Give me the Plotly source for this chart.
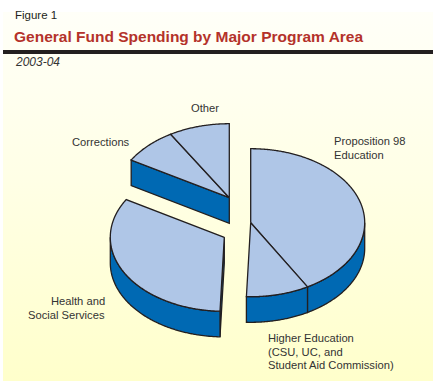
import numpy as np
import plotly.graph_objects as go

categories = ["Proposition 98 Education", "Higher Education", "Health and Social Services", "Corrections", "Other"]
values = [41.7, 8.9, 32.9, 7.9, 8.6]
groups = [0, 0, 1, 2, 2]
# apex position of each exploded group (page pixels)
group_centers = {0: (250.7, 222.7), 1: (224.3, 237.3), 2: (229.3, 197.7)}
RX, RY, DEPTH = 114.0, 74.0, 25.6

LIGHT = "#AFC6E7"
DARK = "#0069B3"
INK = "#231F20"
TEXT = "#333333"
FONT = "Liberation Sans"

fig = go.Figure()

# panel with soft vertical gradient (colour stops listed bottom-to-top because the y axis is reversed)
fig.add_trace(go.Scatter(
    x=[3, 433, 433, 3, 3], y=[12, 12, 381, 381, 12], mode="lines", fill="toself",
    line=dict(width=0), hoverinfo="skip", showlegend=False,
    fillgradient=dict(type="vertical",
                      colorscale=[[0, "#FFFFCB"], [0.55, "#FFFFE6"], [1, "#FFFFF8"]]),
))
fig.add_trace(go.Scatter(
    x=[3, 433, 433, 3, 3], y=[50, 50, 54, 54, 50], mode="lines", fill="toself",
    line=dict(width=0), fillcolor=INK, hoverinfo="skip", showlegend=False))


def poly(xs, ys, color):
    fig.add_trace(go.Scatter(
        x=list(xs), y=list(ys), mode="lines", fill="toself", fillcolor=color,
        line=dict(color=INK, width=1.3, simplify=False), hoverinfo="skip", showlegend=False))


def rim(c, a, b):
    t = np.radians(np.linspace(a, b, max(int(abs(b - a)) * 2, 2) + 1))
    return c[0] + RX * np.sin(t), c[1] - RY * np.cos(t)


edges = np.concatenate([[0], np.cumsum(values) / np.sum(values) * 360])
slices = [(i, edges[i], edges[i + 1], groups[i]) for i in range(len(values))]
group_span = {g: (min(s[1] for s in slices if s[3] == g), max(s[2] for s in slices if s[3] == g))
              for g in group_centers}

for g in [2, 0, 1]:
    c = group_centers[g]
    ga, gb = group_span[g]
    # cut faces that turn toward the viewer
    for ang, vis in ((ga, np.sin(np.radians(ga)) < -1e-6), (gb, np.sin(np.radians(gb)) > 1e-6)):
        if vis:
            x, y = rim(c, ang, ang)
            px = [c[0], x[0], x[0], c[0], c[0]]
            py = [c[1], y[0], y[0] + DEPTH, c[1] + DEPTH, c[1]]
            poly(px, py, DARK)
    # outer wall
    for i, a, b, sg in slices:
        if sg != g:
            continue
        lo, hi = max(a, 90), min(b, 270)
        if lo < hi:
            x, y = rim(c, lo, hi)
            poly(np.r_[x, x[::-1], x[0]], np.r_[y, y[::-1] + DEPTH, y[0]], DARK)
    # top faces
    for i, a, b, sg in slices:
        if sg != g:
            continue
        x, y = rim(c, a, b)
        poly(np.r_[c[0], x, c[0]], np.r_[c[1], y, c[1]], LIGHT)

LBL = 11.2
labels = [
    ("Figure 1", 15, 14.5, "left", 11.5, INK),
    ("<b>General Fund Spending by Major Program Area</b>", 13.5, 36, "left", 15.5, "#B4322A"),
    ("<i>2003-04</i>", 14.5, 62, "left", 12, TEXT),
    ("Other", 205, 108, "center", LBL, TEXT),
    ("Corrections", 130, 142, "right", LBL, TEXT),
    ("Proposition 98", 334, 141, "left", LBL, TEXT),
    ("Education", 334, 155, "left", LBL, TEXT),
    ("Health and", 105, 301, "right", LBL, TEXT),
    ("Social Services", 105, 315, "right", LBL, TEXT),
    ("Higher Education", 268, 338, "left", LBL, TEXT),
    ("(CSU, UC, and", 268, 352, "left", LBL, TEXT),
    ("Student Aid Commission)", 268, 365, "left", LBL, TEXT),
]
for txt, x, y, anchor, size, col in labels:
    fig.add_annotation(x=x, y=y, xref="x", yref="y", text=txt, showarrow=False,
                       xanchor=anchor, yanchor="middle", align=anchor,
                       font=dict(family=FONT, size=size, color=col), borderpad=0, borderwidth=0)

fig.update_layout(
    width=437, height=384, margin=dict(l=0, r=0, t=0, b=0), autosize=False,
    paper_bgcolor="white", plot_bgcolor="rgba(0,0,0,0)", showlegend=False,
    xaxis=dict(range=[0, 437], visible=False, fixedrange=True),
    yaxis=dict(range=[384, 0], visible=False, fixedrange=True),
)
fig.write_html("out.html", config=dict(displayModeBar=False),
               post_script="document.body.style.margin='0';document.documentElement.style.overflow='hidden';")
